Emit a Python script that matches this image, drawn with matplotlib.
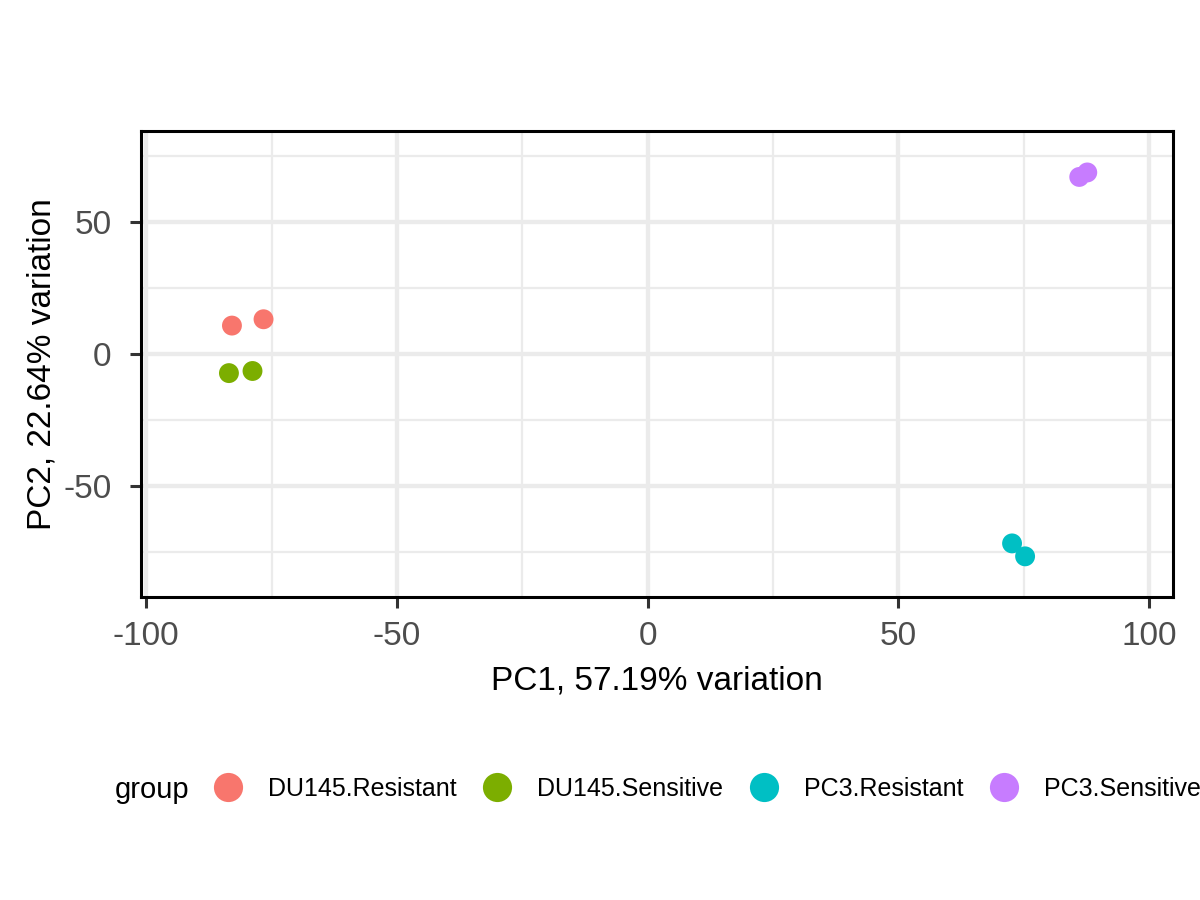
import matplotlib
matplotlib.use('Agg')
import matplotlib.pyplot as plt
from matplotlib.lines import Line2D
from matplotlib.ticker import MultipleLocator

plt.rcParams['font.family'] = ['Liberation Sans', 'DejaVu Sans']
plt.rcParams['axes.unicode_minus'] = False

# ---- data ----
groups = ['DU145.Resistant', 'DU145.Sensitive', 'PC3.Resistant', 'PC3.Sensitive']
group_colors = ['#F8766D', '#7CAE00', '#00BFC4', '#C77CFF']
sample_group = ['DU145.Resistant', 'DU145.Resistant',
                'DU145.Sensitive', 'DU145.Sensitive',
                'PC3.Resistant', 'PC3.Resistant',
                'PC3.Sensitive', 'PC3.Sensitive']
pc1 = [-82.9, -76.6, -83.5, -78.8, 72.7, 75.3, 86.1, 87.7]
pc2 = [10.9, 13.3, -7.1, -6.3, -71.6, -76.5, 67.2, 68.9]
x_label = 'PC1, 57.19% variation'
y_label = 'PC2, 22.64% variation'
legend_title = 'group'

# ---- figure ----
fig = plt.figure(figsize=(12, 9), dpi=100)
ax = fig.add_axes([140.7 / 1200, 1 - 597 / 900, (1173 - 140.7) / 1200, (597 - 131) / 900])

for g, c in zip(groups, group_colors):
    xs = [x for x, s in zip(pc1, sample_group) if s == g]
    ys = [y for y, s in zip(pc2, sample_group) if s == g]
    ax.scatter(xs, ys, s=205, color=c, edgecolors='none', zorder=3)

ax.set_xlim(-101.1, 104.8)
ax.set_ylim(-91.9, 84.6)
ax.xaxis.set_major_locator(MultipleLocator(50))
ax.yaxis.set_major_locator(MultipleLocator(50))
ax.xaxis.set_minor_locator(MultipleLocator(25))
ax.yaxis.set_minor_locator(MultipleLocator(25))
ax.grid(which='major', color='#EBEBEB', linewidth=3.1, zorder=0)
ax.grid(which='minor', color='#EBEBEB', linewidth=1.6, zorder=0)
ax.set_axisbelow(True)
ax.tick_params(which='minor', length=0)
ax.tick_params(which='major', length=8, width=2.2, color='#333333',
               labelsize=24, labelcolor='#4D4D4D')
ax.tick_params(axis='y', pad=13)
ax.tick_params(axis='x', pad=9)
for sp in ax.spines.values():
    sp.set_linewidth(2.2)
    sp.set_color('black')

ax.set_xlabel(x_label, fontsize=24, labelpad=10)
ax.set_ylabel(y_label, fontsize=24, labelpad=4)

handles = [Line2D([], [], marker='o', linestyle='', markersize=21,
                  markerfacecolor=c, markeredgecolor='none') for c in group_colors]
fig.legend(handles, groups, loc='center left',
           bbox_to_anchor=(213 / 1200, 1 - 789 / 900), ncol=4, frameon=False,
           fontsize=18, handlelength=1.2, handletextpad=1.0, columnspacing=1.03,
           borderpad=0, borderaxespad=0)
fig.text(115 / 1200, 1 - 798 / 900, legend_title, fontsize=21, va='baseline', ha='left')

fig.savefig('out.png', dpi=100)
